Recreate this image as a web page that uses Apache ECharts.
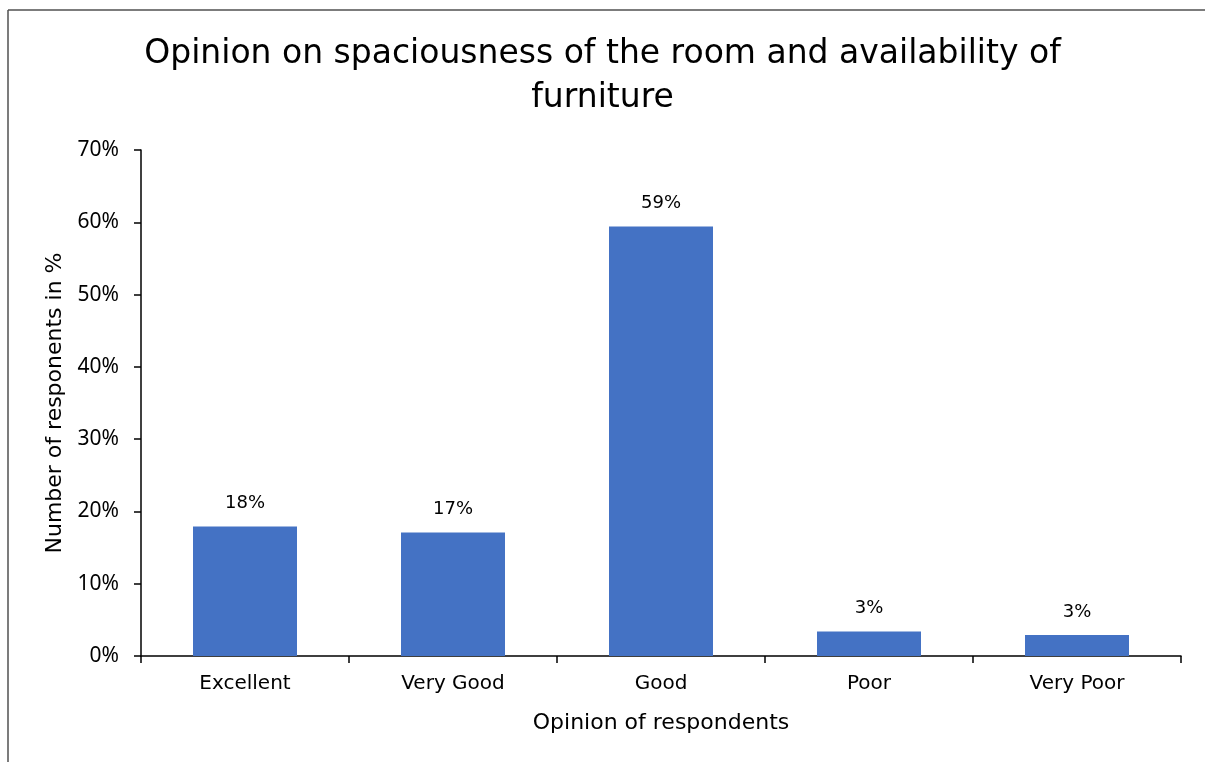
<!DOCTYPE html>
<html><head><meta charset="utf-8">
<script src="https://cdn.jsdelivr.net/npm/echarts@6/dist/echarts.min.js"></script>
<style>html,body{margin:0;padding:0;background:#fff;}#c{width:1205px;height:762px;}</style>
</head><body><div id="c"></div>
<script>
const categories = ['Excellent', 'Very Good', 'Good', 'Poor', 'Very Poor'];
const values = [17.9, 17.1, 59.4, 3.4, 2.9];
const yTicks = [0, 10, 20, 30, 40, 50, 60, 70];
const titleText = 'Opinion on spaciousness of the room and availability of\nfurniture';
const xName = 'Opinion of respondents';
const yName = 'Number of responents in %';

const FONT = '"DejaVu Sans", "Noto Sans", sans-serif';
const NUMFONT = '"Noto Sans", "DejaVu Sans", sans-serif';
const chart = echarts.init(document.getElementById('c'), null, {renderer: 'canvas'});
chart.setOption({
  backgroundColor: '#fff',
  animation: false,
  graphic: [
    {type: 'line', shape: {x1: 8, y1: 10, x2: 1205, y2: 10}, style: {stroke: '#505050', lineWidth: 1.5}},
    {type: 'line', shape: {x1: 8, y1: 10, x2: 8, y2: 762}, style: {stroke: '#505050', lineWidth: 1.5}}
  ],
  title: {
    text: titleText, left: 'center', top: 27,
    textStyle: {fontFamily: FONT, fontSize: 33, fontWeight: 'normal', color: '#000', lineHeight: 44}
  },
  grid: {left: 141, top: 150, right: 24, bottom: 106, containLabel: false},
  xAxis: {
    type: 'category', data: categories,
    name: xName, nameLocation: 'middle', nameGap: 56,
    nameTextStyle: {fontFamily: FONT, fontSize: 22, color: '#000'},
    axisLine: {lineStyle: {color: '#000', width: 1.5}},
    axisTick: {show: true, length: 7, lineStyle: {color: '#000', width: 1.5}, alignWithLabel: false},
    axisLabel: {fontFamily: FONT, fontSize: 20, color: '#000', margin: 18}
  },
  yAxis: {
    type: 'value', min: yTicks[0], max: yTicks[yTicks.length - 1], interval: 10,
    name: yName, nameLocation: 'middle', nameGap: 70, nameRotate: 90,
    nameTextStyle: {fontFamily: FONT, fontSize: 22, color: '#000'},
    axisLine: {show: true, lineStyle: {color: '#000', width: 1.5}},
    axisTick: {show: true, length: 7, lineStyle: {color: '#000', width: 1.5}},
    splitLine: {show: false},
    axisLabel: {fontFamily: NUMFONT, fontSize: 21, color: '#000', margin: 22, formatter: v => v + '%'}
  },
  series: [{
    type: 'bar', data: values, barWidth: '50%',
    itemStyle: {color: '#4472C4'},
    label: {show: true, position: 'top', distance: 14, fontFamily: FONT, fontSize: 18, color: '#000',
      formatter: p => Math.round(p.value) + '%'}
  }]
});
</script></body></html>
